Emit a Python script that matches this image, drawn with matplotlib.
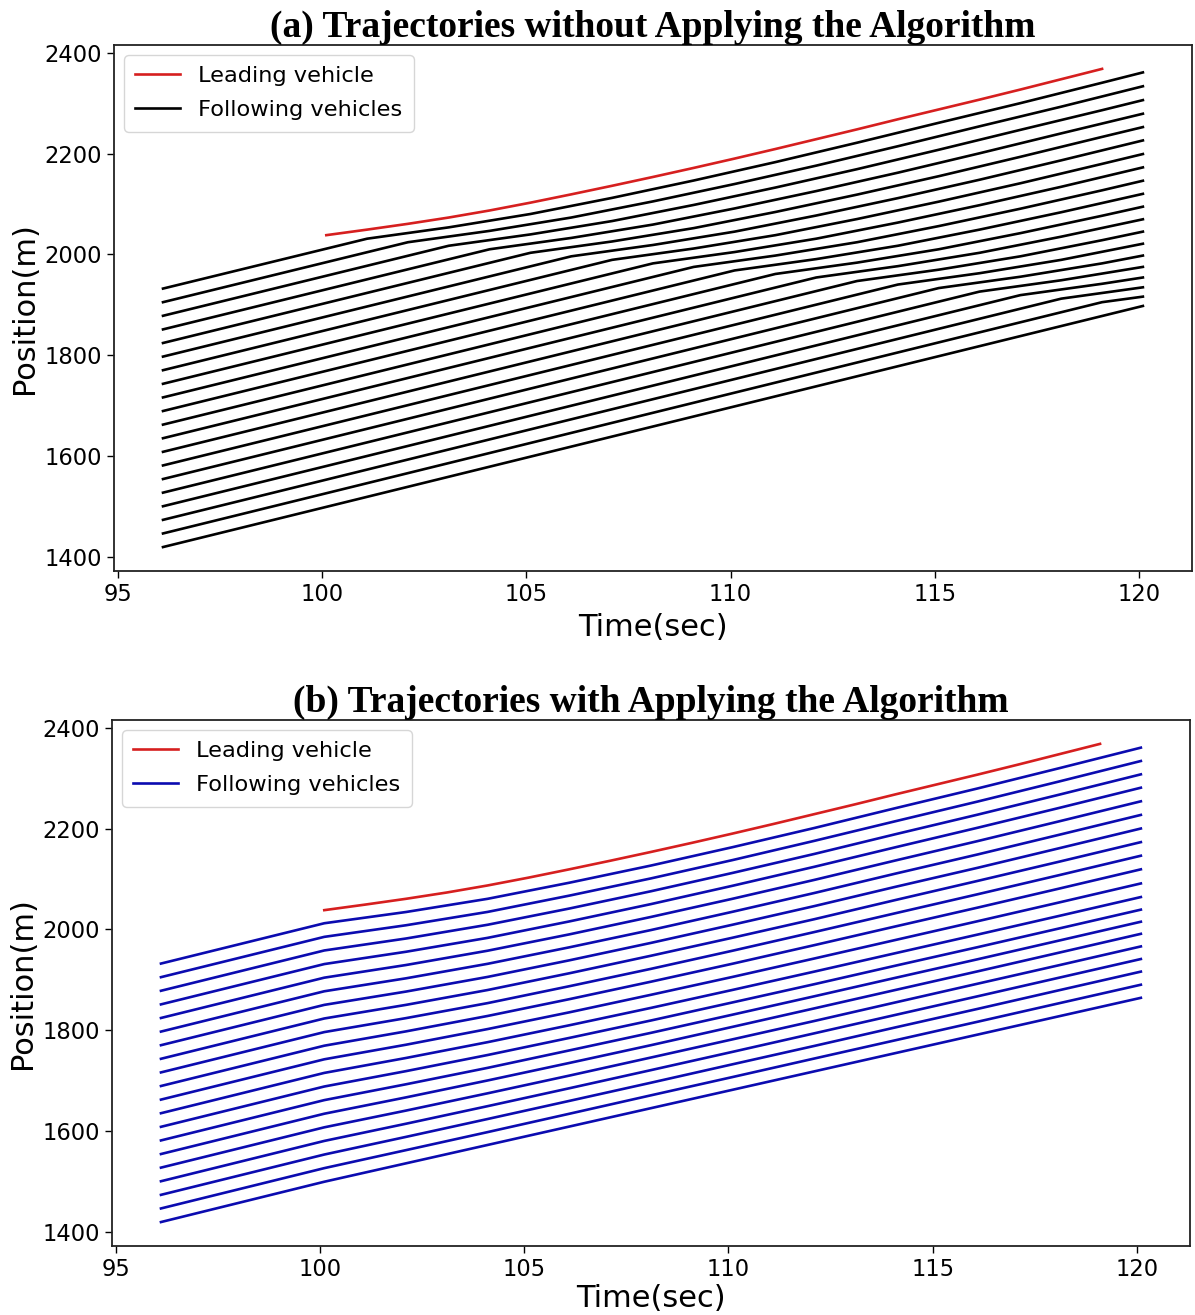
import matplotlib
matplotlib.use("Agg")
import matplotlib.pyplot as plt

# ---------------- data ----------------
lead_t = [100.1, 101.1, 102.1, 103.1, 104.1, 105.1, 106.1, 107.1, 108.1, 109.1,
          110.1, 111.1, 112.1, 113.1, 114.1, 115.1, 116.1, 117.1, 118.1, 119.1]
lead_x = [2038, 2049, 2060.5, 2073, 2087, 2102.5, 2119, 2136, 2153.5, 2171.5,
          2190, 2209, 2228.5, 2248, 2268, 2287.5, 2307, 2327, 2347.5, 2368]

# (a) following vehicles without the algorithm: vertex times / positions
follow_a_t = [
    [96.1, 101.1, 103.1, 105.1, 107.1, 109.1, 111.1, 113.1, 115.1, 117.1, 119.1, 120.1],
    [96.1, 102.1, 104.1, 106.1, 108.1, 110.1, 112.1, 114.1, 116.1, 118.1, 120.1],
    [96.1, 103.1, 105.1, 107.1, 109.1, 111.1, 113.1, 115.1, 117.1, 119.1, 120.1],
    [96.1, 104.1, 106.1, 108.1, 110.1, 112.1, 114.1, 116.1, 118.1, 120.1],
    [96.1, 105.1, 107.1, 109.1, 111.1, 113.1, 115.1, 117.1, 119.1, 120.1],
    [96.1, 106.1, 108.1, 110.1, 112.1, 114.1, 116.1, 118.1, 120.1],
    [96.1, 107.1, 109.1, 111.1, 113.1, 115.1, 117.1, 119.1, 120.1],
    [96.1, 108.1, 110.1, 112.1, 114.1, 116.1, 118.1, 120.1],
    [96.1, 109.1, 111.1, 113.1, 115.1, 117.1, 119.1, 120.1],
    [96.1, 110.1, 112.1, 114.1, 116.1, 118.1, 120.1],
    [96.1, 111.1, 113.1, 115.1, 117.1, 119.1, 120.1],
    [96.1, 112.1, 114.1, 116.1, 118.1, 120.1],
    [96.1, 113.1, 115.1, 117.1, 119.1, 120.1],
    [96.1, 114.1, 116.1, 118.1, 120.1],
    [96.1, 115.1, 117.1, 119.1, 120.1],
    [96.1, 116.1, 118.1, 120.1],
    [96.1, 117.1, 119.1, 120.1],
    [96.1, 118.1, 120.1],
    [96.1, 119.1, 120.1],
    [96.1, 120.1],
]
follow_a_x = [
    [1932, 2031, 2053.5, 2080, 2112, 2146.5, 2183, 2221.5, 2261, 2300, 2340.5, 2361],
    [1905, 2024, 2046.5, 2073, 2105, 2139.5, 2176, 2214.5, 2254, 2293, 2333.5],
    [1878, 2017, 2039.5, 2066, 2098, 2132.5, 2169, 2207.5, 2247, 2286, 2306],
    [1851, 2010, 2032.5, 2059, 2091, 2125.5, 2162, 2200.5, 2240, 2279],
    [1824, 2003, 2025.5, 2052, 2084, 2118.5, 2155, 2193.5, 2233, 2252.5],
    [1797, 1996, 2018.5, 2045, 2077, 2111.5, 2148, 2186.5, 2226],
    [1770, 1989, 2011.5, 2038, 2070, 2104.5, 2141, 2179.5, 2199],
    [1743, 1982, 2004.5, 2031, 2063, 2097.5, 2134, 2172.5],
    [1716, 1975, 1997.5, 2024, 2056, 2090.5, 2127, 2146],
    [1689, 1968, 1990.5, 2017, 2049, 2083.5, 2120],
    [1662, 1961, 1983.5, 2010, 2042, 2076.5, 2094.5],
    [1635, 1954, 1976.5, 2003, 2035, 2069.5],
    [1608, 1947, 1969.5, 1996, 2028, 2045],
    [1581, 1940, 1962.5, 1989, 2021],
    [1554, 1933, 1955.5, 1982, 1997.5],
    [1527, 1926, 1948.5, 1975],
    [1500, 1919, 1941.5, 1954],
    [1473, 1912, 1934.5],
    [1446, 1905, 1916],
    [1419, 1897.5],
]

# (b) following vehicles with the algorithm, on a shared time grid
follow_b_t = [96.1, 100.1, 102.1, 104.1, 106.1, 108.1, 110.1, 112.1, 114.1, 116.1, 118.1, 120.1]
follow_b_x = [
    [1932, 2012, 2034.3, 2060.5, 2092.4, 2126.5, 2163, 2201, 2240.6, 2279.5, 2319.7, 2360.5],
    [1905, 1985, 2008, 2034.5, 2066.8, 2101, 2137.4, 2175.5, 2214.7, 2253.5, 2293.4, 2334],
    [1878, 1958, 1981.7, 2009, 2041.2, 2075.5, 2111.9, 2149.5, 2188.9, 2227.5, 2267.2, 2307.5],
    [1851, 1931, 1955.4, 1983, 2015.6, 2050, 2086.4, 2124, 2163, 2201.5, 2240.9, 2281],
    [1824, 1904, 1929.1, 1957.5, 1989.9, 2024.5, 2060.6, 2098, 2136.8, 2175, 2214.3, 2254],
    [1797, 1877, 1902.7, 1931.5, 1964.2, 1998.5, 2034.8, 2072, 2110.7, 2148.5, 2187.6, 2227],
    [1770, 1850, 1876.4, 1905.5, 1938.4, 1973, 2009.1, 2046, 2084.5, 2122, 2160.9, 2200],
    [1743, 1823, 1850, 1879.5, 1912.7, 1947.5, 1983.3, 2020, 2058.3, 2096, 2134.2, 2173],
    [1716, 1796, 1823.7, 1853.5, 1887, 1921.5, 1957.5, 1994.5, 2032.1, 2069.5, 2107.5, 2146],
    [1689, 1769, 1797.4, 1828, 1861.3, 1896, 1931.7, 1968.5, 2005.9, 2043, 2080.8, 2119],
    [1662, 1742, 1770.9, 1802, 1835.2, 1870, 1905.5, 1942, 1979, 2016, 2053.3, 2091],
    [1635, 1715, 1744.6, 1776, 1809.5, 1844, 1879.7, 1916, 1952.8, 1989.5, 2026.6, 2064],
    [1608, 1688, 1718.5, 1750.5, 1784.4, 1819, 1854.9, 1891, 1928, 1964.5, 2001.7, 2039],
    [1581, 1661, 1692.4, 1725, 1759.6, 1794.5, 1830.6, 1867, 1903.9, 1940.5, 1977.7, 2015],
    [1554, 1634, 1666.4, 1700, 1734.7, 1770, 1806.4, 1843, 1879.8, 1916.5, 1953.7, 1991],
    [1527, 1607, 1640.2, 1674.5, 1709.6, 1745.5, 1781.6, 1818, 1855.1, 1892, 1928.8, 1966],
    [1500, 1580, 1614.1, 1649, 1684.5, 1720.5, 1756.8, 1793.5, 1830.3, 1867, 1904, 1941],
    [1473, 1553, 1588, 1623.5, 1659.4, 1695.5, 1732.1, 1768.5, 1805.5, 1842, 1879.1, 1916],
    [1446, 1526, 1561.7, 1597.5, 1633.9, 1670.5, 1706.8, 1743.5, 1780, 1816.5, 1853.3, 1890],
    [1419, 1499, 1535.5, 1572, 1608.5, 1645, 1681.5, 1718, 1754.5, 1791, 1827.5, 1864],
]

x_ticks = [95, 100, 105, 110, 115, 120]
y_ticks = [1400, 1600, 1800, 2000, 2200, 2400]
titles = ["(a) Trajectories without Applying the Algorithm",
          "(b) Trajectories with Applying the Algorithm"]
lead_label = "Leading vehicle"
follow_label = "Following vehicles"
xlabel = "Time(sec)"
ylabel = "Position(m)"

# ---------------- styling ----------------
RED = "#d61f1f"
BLACK = "#000000"
BLUE = "#0b0bb0"
LW = 1.9

plt.rcParams["font.family"] = ["DejaVu Sans"]
fig = plt.figure(figsize=(11.95, 13.15), dpi=100)
ax_a = fig.add_axes([0.0954, 0.5658, 0.902, 0.400])
ax_b = fig.add_axes([0.0937, 0.0525, 0.902, 0.400])


def draw(ax, title, fcolor, follow_sets, xlabelpad):
    ax.plot(lead_t, lead_x, color=RED, lw=LW, label=lead_label)
    for n, (tt, xx) in enumerate(follow_sets):
        ax.plot(tt, xx, color=fcolor, lw=LW,
                label=follow_label if n == 0 else None)
    ax.set_xticks(x_ticks)
    ax.set_yticks(y_ticks)
    ax.tick_params(labelsize=16.3, length=5, width=1.0)
    ax.set_xlabel(xlabel, fontsize=22, labelpad=xlabelpad)
    ax.set_ylabel(ylabel, fontsize=22, labelpad=4)
    ax.set_title(title, fontsize=27, fontweight="bold",
                 family="Liberation Serif", pad=4)
    for s in ax.spines.values():
        s.set_linewidth(1.3)
        s.set_color("#222222")
    ax.legend(loc="upper left", fontsize=16.2, borderaxespad=0.45,
              labelspacing=0.62, borderpad=0.5)


draw(ax_a, titles[0], BLACK, list(zip(follow_a_t, follow_a_x)), 5.5)
draw(ax_b, titles[1], BLUE, [(follow_b_t, row) for row in follow_b_x], 2.5)

fig.savefig("out.png", dpi=100)
